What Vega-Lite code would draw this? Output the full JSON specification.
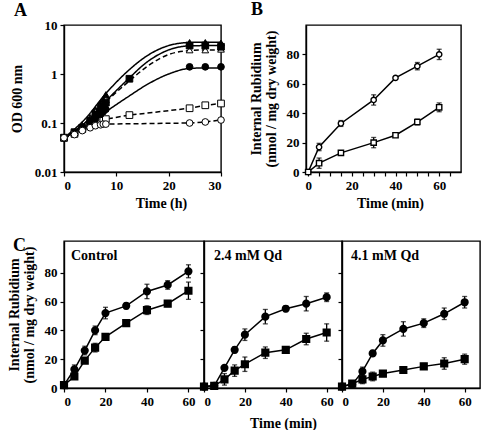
{
  "$schema": "https://vega.github.io/schema/vega-lite/v6.json",
  "padding": {"left": 6, "top": 0, "right": 0, "bottom": 0},
  "background": "white",
  "bounds": "flush",
  "spacing": 216,
  "resolve": {"scale": {"x": "independent", "y": "independent", "shape": "independent", "fill": "independent", "strokeDash": "independent"}},
  "config": {
    "font": "Liberation Serif",
    "view": {"stroke": "black", "strokeWidth": 1.4},
    "axis": {"labelFont": "Liberation Serif", "labelFontWeight": "bold", "labelFontSize": 13, "labelColor": "black", "titleFont": "Liberation Serif", "titleFontWeight": "bold", "titleFontSize": 14, "titleColor": "black", "domainColor": "black", "tickColor": "black", "grid": false, "tickSize": 4, "domainWidth": 1.4, "tickWidth": 1.2, "labelPadding": 3},
    "title": {"font": "Liberation Serif", "fontWeight": "bold", "color": "black"}
  },
  "datasets": {
    "a": [
      {"s": "a1", "t": 0, "od": 0.05}, {"s": "a1", "t": 2, "od": 0.065}, {"s": "a1", "t": 3.5, "od": 0.09}, {"s": "a1", "t": 5, "od": 0.13}, {"s": "a1", "t": 6, "od": 0.19}, {"s": "a1", "t": 7, "od": 0.26}, {"s": "a1", "t": 7.5, "od": 0.3}, {"s": "a1", "t": 8, "od": 0.38}, {"s": "a1", "t": 24, "od": 4.4}, {"s": "a1", "t": 27, "od": 4.4}, {"s": "a1", "t": 30, "od": 4.3},
      {"s": "a2", "t": 0, "od": 0.05}, {"s": "a2", "t": 2, "od": 0.063}, {"s": "a2", "t": 3.5, "od": 0.085}, {"s": "a2", "t": 5, "od": 0.12}, {"s": "a2", "t": 6, "od": 0.17}, {"s": "a2", "t": 7, "od": 0.22}, {"s": "a2", "t": 7.5, "od": 0.26}, {"s": "a2", "t": 8, "od": 0.3}, {"s": "a2", "t": 24, "od": 3.1}, {"s": "a2", "t": 27, "od": 3.1}, {"s": "a2", "t": 30, "od": 3.2},
      {"s": "a3", "t": 0, "od": 0.05}, {"s": "a3", "t": 2, "od": 0.065}, {"s": "a3", "t": 3.5, "od": 0.08}, {"s": "a3", "t": 5, "od": 0.11}, {"s": "a3", "t": 6, "od": 0.15}, {"s": "a3", "t": 7, "od": 0.19}, {"s": "a3", "t": 7.5, "od": 0.22}, {"s": "a3", "t": 8, "od": 0.26}, {"s": "a3", "t": 12.5, "od": 0.8}, {"s": "a3", "t": 24, "od": 3.8}, {"s": "a3", "t": 27, "od": 3.8}, {"s": "a3", "t": 30, "od": 3.6},
      {"s": "a4", "t": 0, "od": 0.05}, {"s": "a4", "t": 2, "od": 0.06}, {"s": "a4", "t": 3.5, "od": 0.075}, {"s": "a4", "t": 5, "od": 0.09}, {"s": "a4", "t": 6, "od": 0.1}, {"s": "a4", "t": 7, "od": 0.11}, {"s": "a4", "t": 7.5, "od": 0.115}, {"s": "a4", "t": 8, "od": 0.12}, {"s": "a4", "t": 12.5, "od": 0.145}, {"s": "a4", "t": 24, "od": 0.2}, {"s": "a4", "t": 27, "od": 0.23}, {"s": "a4", "t": 30, "od": 0.25},
      {"s": "a5", "t": 0, "od": 0.05}, {"s": "a5", "t": 2, "od": 0.06}, {"s": "a5", "t": 3.5, "od": 0.08}, {"s": "a5", "t": 5, "od": 0.1}, {"s": "a5", "t": 6, "od": 0.12}, {"s": "a5", "t": 7, "od": 0.15}, {"s": "a5", "t": 7.5, "od": 0.17}, {"s": "a5", "t": 8, "od": 0.19}, {"s": "a5", "t": 24, "od": 1.4}, {"s": "a5", "t": 27, "od": 1.4}, {"s": "a5", "t": 30, "od": 1.4},
      {"s": "a6", "t": 0, "od": 0.05}, {"s": "a6", "t": 2, "od": 0.058}, {"s": "a6", "t": 3.5, "od": 0.07}, {"s": "a6", "t": 5, "od": 0.08}, {"s": "a6", "t": 6, "od": 0.088}, {"s": "a6", "t": 7, "od": 0.092}, {"s": "a6", "t": 7.5, "od": 0.095}, {"s": "a6", "t": 8, "od": 0.095}, {"s": "a6", "t": 24, "od": 0.1}, {"s": "a6", "t": 27, "od": 0.105}, {"s": "a6", "t": 30, "od": 0.115}
    ],
    "acurve": [
      {"s": "a1", "t": 0, "od": 0.05}, {"s": "a1", "t": 4, "od": 0.12}, {"s": "a1", "t": 8, "od": 0.4}, {"s": "a1", "t": 12, "od": 1.1}, {"s": "a1", "t": 16, "od": 2.4}, {"s": "a1", "t": 20, "od": 3.8}, {"s": "a1", "t": 24, "od": 4.4}, {"s": "a1", "t": 27, "od": 4.45}, {"s": "a1", "t": 30, "od": 4.45},
      {"s": "a2", "t": 0, "od": 0.05}, {"s": "a2", "t": 4, "od": 0.1}, {"s": "a2", "t": 8, "od": 0.27}, {"s": "a2", "t": 12, "od": 0.65}, {"s": "a2", "t": 16, "od": 1.45}, {"s": "a2", "t": 20, "od": 2.5}, {"s": "a2", "t": 24, "od": 3.0}, {"s": "a2", "t": 27, "od": 3.1}, {"s": "a2", "t": 30, "od": 3.1},
      {"s": "a3", "t": 0, "od": 0.05}, {"s": "a3", "t": 4, "od": 0.1}, {"s": "a3", "t": 8, "od": 0.28}, {"s": "a3", "t": 12, "od": 0.74}, {"s": "a3", "t": 16, "od": 1.8}, {"s": "a3", "t": 20, "od": 3.1}, {"s": "a3", "t": 24, "od": 3.75}, {"s": "a3", "t": 27, "od": 3.8}, {"s": "a3", "t": 30, "od": 3.8},
      {"s": "a5", "t": 0, "od": 0.05}, {"s": "a5", "t": 4, "od": 0.085}, {"s": "a5", "t": 8, "od": 0.17}, {"s": "a5", "t": 12, "od": 0.33}, {"s": "a5", "t": 16, "od": 0.62}, {"s": "a5", "t": 20, "od": 1.0}, {"s": "a5", "t": 24, "od": 1.3}, {"s": "a5", "t": 27, "od": 1.33}, {"s": "a5", "t": 30, "od": 1.33}
    ],
    "b": [
      {"s": "b1", "t": 0, "v": 0, "e": 0}, {"s": "b1", "t": 5, "v": 17, "e": 2.5}, {"s": "b1", "t": 15, "v": 33, "e": 2}, {"s": "b1", "t": 30, "v": 49, "e": 3.5}, {"s": "b1", "t": 40, "v": 64, "e": 1}, {"s": "b1", "t": 50, "v": 72, "e": 2.5}, {"s": "b1", "t": 60, "v": 80, "e": 3.5},
      {"s": "b2", "t": 0, "v": 0, "e": 0}, {"s": "b2", "t": 5, "v": 6, "e": 3.5}, {"s": "b2", "t": 15, "v": 13, "e": 1}, {"s": "b2", "t": 30, "v": 20, "e": 3.5}, {"s": "b2", "t": 40, "v": 25, "e": 1}, {"s": "b2", "t": 50, "v": 34, "e": 2}, {"s": "b2", "t": 60, "v": 44, "e": 3}
    ],
    "c": [
      {"p": "Control", "s": "c1", "t": 0, "v": 2, "e": 0}, {"p": "Control", "s": "c1", "t": 5, "v": 13, "e": 3}, {"p": "Control", "s": "c1", "t": 10, "v": 26, "e": 3}, {"p": "Control", "s": "c1", "t": 15, "v": 40, "e": 3}, {"p": "Control", "s": "c1", "t": 20, "v": 52, "e": 4}, {"p": "Control", "s": "c1", "t": 30, "v": 57, "e": 2}, {"p": "Control", "s": "c1", "t": 40, "v": 67, "e": 5}, {"p": "Control", "s": "c1", "t": 50, "v": 71.5, "e": 3}, {"p": "Control", "s": "c1", "t": 60, "v": 81, "e": 4.5},
      {"p": "Control", "s": "c2", "t": 0, "v": 2, "e": 0}, {"p": "Control", "s": "c2", "t": 5, "v": 8, "e": 2}, {"p": "Control", "s": "c2", "t": 10, "v": 19, "e": 1.5}, {"p": "Control", "s": "c2", "t": 15, "v": 28, "e": 3}, {"p": "Control", "s": "c2", "t": 20, "v": 35.5, "e": 2}, {"p": "Control", "s": "c2", "t": 30, "v": 45, "e": 1}, {"p": "Control", "s": "c2", "t": 40, "v": 54, "e": 3}, {"p": "Control", "s": "c2", "t": 50, "v": 58.5, "e": 2}, {"p": "Control", "s": "c2", "t": 60, "v": 67.5, "e": 6},
      {"p": "2.4 mM Qd", "s": "c1", "t": 0, "v": 1, "e": 0}, {"p": "2.4 mM Qd", "s": "c1", "t": 5, "v": 1.5, "e": 0.5}, {"p": "2.4 mM Qd", "s": "c1", "t": 10, "v": 14, "e": 1}, {"p": "2.4 mM Qd", "s": "c1", "t": 15, "v": 26.5, "e": 2}, {"p": "2.4 mM Qd", "s": "c1", "t": 20, "v": 37, "e": 4}, {"p": "2.4 mM Qd", "s": "c1", "t": 30, "v": 49.5, "e": 5}, {"p": "2.4 mM Qd", "s": "c1", "t": 40, "v": 55, "e": 2}, {"p": "2.4 mM Qd", "s": "c1", "t": 50, "v": 58.5, "e": 5}, {"p": "2.4 mM Qd", "s": "c1", "t": 60, "v": 63, "e": 3},
      {"p": "2.4 mM Qd", "s": "c2", "t": 0, "v": 1, "e": 0}, {"p": "2.4 mM Qd", "s": "c2", "t": 5, "v": 1.5, "e": 0.5}, {"p": "2.4 mM Qd", "s": "c2", "t": 10, "v": 6, "e": 4}, {"p": "2.4 mM Qd", "s": "c2", "t": 15, "v": 12, "e": 4}, {"p": "2.4 mM Qd", "s": "c2", "t": 20, "v": 16.5, "e": 5}, {"p": "2.4 mM Qd", "s": "c2", "t": 30, "v": 24.5, "e": 4}, {"p": "2.4 mM Qd", "s": "c2", "t": 40, "v": 26.5, "e": 1}, {"p": "2.4 mM Qd", "s": "c2", "t": 50, "v": 34, "e": 4}, {"p": "2.4 mM Qd", "s": "c2", "t": 60, "v": 38.5, "e": 6},
      {"p": "4.1 mM Qd", "s": "c1", "t": 0, "v": 1, "e": 0}, {"p": "4.1 mM Qd", "s": "c1", "t": 5, "v": 2.5, "e": 1}, {"p": "4.1 mM Qd", "s": "c1", "t": 10, "v": 11.5, "e": 3}, {"p": "4.1 mM Qd", "s": "c1", "t": 15, "v": 24, "e": 2}, {"p": "4.1 mM Qd", "s": "c1", "t": 20, "v": 33, "e": 4}, {"p": "4.1 mM Qd", "s": "c1", "t": 30, "v": 41, "e": 5}, {"p": "4.1 mM Qd", "s": "c1", "t": 40, "v": 45, "e": 3}, {"p": "4.1 mM Qd", "s": "c1", "t": 50, "v": 51.5, "e": 4}, {"p": "4.1 mM Qd", "s": "c1", "t": 60, "v": 59.5, "e": 4},
      {"p": "4.1 mM Qd", "s": "c2", "t": 0, "v": 1, "e": 0}, {"p": "4.1 mM Qd", "s": "c2", "t": 5, "v": 3, "e": 1}, {"p": "4.1 mM Qd", "s": "c2", "t": 10, "v": 6, "e": 3}, {"p": "4.1 mM Qd", "s": "c2", "t": 15, "v": 8, "e": 3}, {"p": "4.1 mM Qd", "s": "c2", "t": 20, "v": 10, "e": 2}, {"p": "4.1 mM Qd", "s": "c2", "t": 30, "v": 12.5, "e": 1.5}, {"p": "4.1 mM Qd", "s": "c2", "t": 40, "v": 15, "e": 2}, {"p": "4.1 mM Qd", "s": "c2", "t": 50, "v": 17, "e": 4}, {"p": "4.1 mM Qd", "s": "c2", "t": 60, "v": 20, "e": 3.5}
    ]
  },
  "vconcat": [
    {
      "hconcat": [
        {
          "width": 157, "height": 147,
          "title": {"text": "A", "anchor": "start", "frame": "group", "dx": -50, "offset": -1, "fontSize": 18},
          "layer": [
            {
              "data": {"name": "acurve"},
              "mark": {"type": "line", "interpolate": "monotone", "color": "black", "strokeWidth": 1.5},
              "encoding": {
                "x": {"field": "t", "type": "quantitative", "scale": {"domain": [0, 30], "nice": false}, "axis": {"values": [0, 5, 10, 15, 20, 25, 30], "labelExpr": "datum.value % 10 === 0 ? datum.label : ''", "title": "Time (h)", "titleX": 97}},
                "y": {"field": "od", "type": "quantitative", "scale": {"type": "log", "domain": [0.01, 10], "nice": false}, "axis": {"values": [0.01, 0.1, 1, 10], "format": "~g", "title": "OD 600 nm", "titlePadding": 10}},
                "detail": {"field": "s"},
                "strokeDash": {"field": "s", "type": "nominal", "scale": {"domain": ["a1", "a2", "a3", "a4", "a5", "a6"], "range": [[1, 0], [5, 3], [1, 0], [5, 3], [1, 0], [5, 3]]}, "legend": null}
              }
            },
            {
              "data": {"name": "a"},
              "transform": [{"filter": {"field": "s", "oneOf": ["a4", "a6"]}}],
              "mark": {"type": "line", "color": "black", "strokeWidth": 1.5},
              "encoding": {
                "x": {"field": "t", "type": "quantitative"},
                "y": {"field": "od", "type": "quantitative"},
                "detail": {"field": "s"},
                "strokeDash": {"field": "s", "type": "nominal", "legend": null}
              }
            },
            {
              "data": {"name": "a"},
              "mark": {"type": "point", "filled": true, "stroke": "black", "strokeWidth": 1, "size": 45, "opacity": 1},
              "encoding": {
                "x": {"field": "t", "type": "quantitative"},
                "y": {"field": "od", "type": "quantitative"},
                "shape": {"field": "s", "type": "nominal", "scale": {"domain": ["a1", "a2", "a3", "a4", "a5", "a6"], "range": ["triangle-up", "triangle-up", "square", "square", "circle", "circle"]}, "legend": null},
                "fill": {"field": "s", "type": "nominal", "scale": {"domain": ["a1", "a2", "a3", "a4", "a5", "a6"], "range": ["black", "white", "black", "white", "black", "white"]}, "legend": null}
              }
            }
          ]
        },
        {
          "width": 155, "height": 147,
          "title": {"text": "B", "anchor": "start", "frame": "group", "dx": -55, "offset": 6, "fontSize": 18},
          "data": {"name": "b"},
          "encoding": {
            "x": {"field": "t", "type": "quantitative", "scale": {"domain": [-1, 70], "nice": false}, "axis": {"values": [0, 5, 10, 15, 20, 25, 30, 35, 40, 45, 50, 55, 60, 65], "labelExpr": "datum.value % 20 === 0 ? datum.label : ''", "title": "Time (min)", "titleX": 84}},
            "y": {"field": "v", "type": "quantitative", "scale": {"domain": [0, 100], "nice": false}, "axis": {"values": [0, 20, 40, 60, 80], "title": ["Internal Rubidium", "(nmol / mg dry weight)"], "titlePadding": 8, "titleLineHeight": 15}}
          },
          "layer": [
            {"mark": {"type": "line", "color": "black", "strokeWidth": 1.5}, "encoding": {"detail": {"field": "s"}}},
            {"mark": {"type": "errorbar", "ticks": true, "color": "black", "thickness": 1.3}, "encoding": {"yError": {"field": "e"}, "detail": {"field": "s"}}},
            {"mark": {"type": "point", "filled": true, "fill": "white", "stroke": "black", "strokeWidth": 1.4, "size": 28, "opacity": 1},
             "encoding": {"shape": {"field": "s", "type": "nominal", "scale": {"domain": ["b1", "b2"], "range": ["circle", "square"]}, "legend": null}}}
          ]
        }
      ],
      "spacing": 85,
      "bounds": "flush",
      "resolve": {"scale": {"x": "independent", "y": "independent", "shape": "independent", "fill": "independent", "strokeDash": "independent"}}
    },
    {
      "title": {"text": "C", "anchor": "start", "frame": "group", "dx": -51, "offset": -15, "fontSize": 18},
      "hconcat": [
        {
          "width": 140, "height": 147,
          "title": {"text": "Control", "anchor": "start", "frame": "group", "dx": 7, "offset": -22, "fontSize": 14},
          "data": {"name": "c"},
          "transform": [{"filter": {"field": "p", "equal": "Control"}}],
          "encoding": {
            "x": {"field": "t", "type": "quantitative", "scale": {"domain": [0, 67.5], "nice": false}, "axis": {"values": [0, 20, 40, 60], "title": null}},
            "y": {"field": "v", "type": "quantitative", "scale": {"domain": [0, 102], "nice": false}, "axis": {"values": [0, 20, 40, 60, 80], "title": ["Internal Rubidium", "(nmol / mg dry weight)"], "titlePadding": 8, "titleLineHeight": 15}}
          },
          "layer": [
            {"mark": {"type": "line", "color": "black", "strokeWidth": 1.5}, "encoding": {"detail": {"field": "s"}}},
            {"mark": {"type": "errorbar", "ticks": true, "color": "black", "thickness": 1.3}, "encoding": {"yError": {"field": "e"}, "detail": {"field": "s"}}},
            {"mark": {"type": "point", "filled": true, "fill": "black", "stroke": "black", "size": 38, "opacity": 1},
             "encoding": {"shape": {"field": "s", "type": "nominal", "scale": {"domain": ["c1", "c2"], "range": ["circle", "square"]}, "legend": null}}}
          ]
        },
        {
          "width": 138, "height": 147,
          "title": {"text": "2.4 mM Qd", "anchor": "start", "frame": "group", "dx": 10, "offset": -22, "fontSize": 14},
          "data": {"name": "c"},
          "transform": [{"filter": {"field": "p", "equal": "2.4 mM Qd"}}],
          "encoding": {
            "x": {"field": "t", "type": "quantitative", "scale": {"domain": [0, 67.5], "nice": false}, "axis": {"values": [0, 20, 40, 60], "title": "Time (min)", "titleX": 79, "titlePadding": 8}},
            "y": {"field": "v", "type": "quantitative", "scale": {"domain": [0, 102], "nice": false}, "axis": {"values": [0, 20, 40, 60, 80], "labels": false, "title": null}}
          },
          "layer": [
            {"mark": {"type": "line", "color": "black", "strokeWidth": 1.5}, "encoding": {"detail": {"field": "s"}}},
            {"mark": {"type": "errorbar", "ticks": true, "color": "black", "thickness": 1.3}, "encoding": {"yError": {"field": "e"}, "detail": {"field": "s"}}},
            {"mark": {"type": "point", "filled": true, "fill": "black", "stroke": "black", "size": 38, "opacity": 1},
             "encoding": {"shape": {"field": "s", "type": "nominal", "scale": {"domain": ["c1", "c2"], "range": ["circle", "square"]}, "legend": null}}}
          ]
        },
        {
          "width": 138, "height": 147,
          "title": {"text": "4.1 mM Qd", "anchor": "start", "frame": "group", "dx": 9, "offset": -22, "fontSize": 14},
          "data": {"name": "c"},
          "transform": [{"filter": {"field": "p", "equal": "4.1 mM Qd"}}],
          "encoding": {
            "x": {"field": "t", "type": "quantitative", "scale": {"domain": [0, 67.5], "nice": false}, "axis": {"values": [0, 20, 40, 60], "title": null}},
            "y": {"field": "v", "type": "quantitative", "scale": {"domain": [0, 102], "nice": false}, "axis": {"values": [0, 20, 40, 60, 80], "labels": false, "title": null}}
          },
          "layer": [
            {"mark": {"type": "line", "color": "black", "strokeWidth": 1.5}, "encoding": {"detail": {"field": "s"}}},
            {"mark": {"type": "errorbar", "ticks": true, "color": "black", "thickness": 1.3}, "encoding": {"yError": {"field": "e"}, "detail": {"field": "s"}}},
            {"mark": {"type": "point", "filled": true, "fill": "black", "stroke": "black", "size": 38, "opacity": 1},
             "encoding": {"shape": {"field": "s", "type": "nominal", "scale": {"domain": ["c1", "c2"], "range": ["circle", "square"]}, "legend": null}}}
          ]
        }
      ],
      "spacing": 0,
      "bounds": "flush",
      "resolve": {"scale": {"x": "independent", "y": "independent", "shape": "independent"}}
    }
  ]
}
